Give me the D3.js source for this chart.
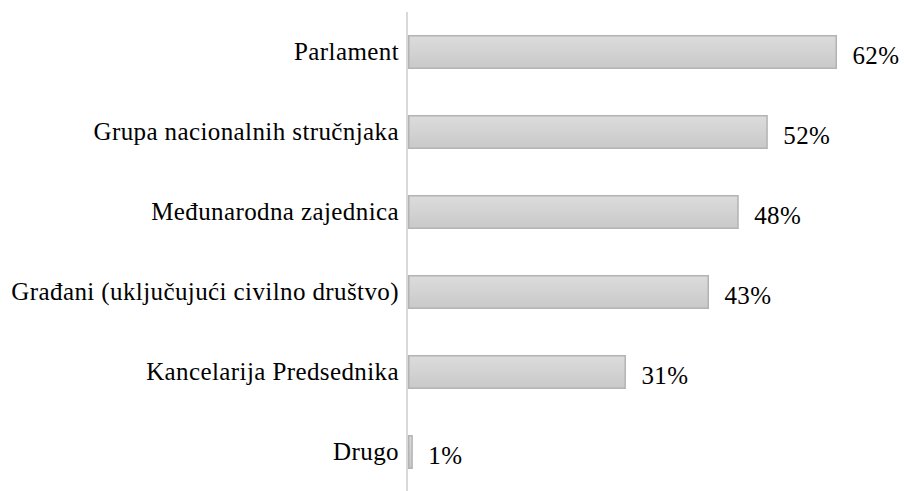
<!DOCTYPE html>
<html><head><meta charset="utf-8">
<script src="https://cdn.jsdelivr.net/npm/d3@7"></script>
<style>html,body{margin:0;padding:0;background:#fff;}</style>
</head><body>
<script>
const categories = ["Parlament","Grupa nacionalnih stručnjaka","Međunarodna zajednica","Građani (uključujući civilno društvo)","Kancelarija Predsednika","Drugo"];
const values = [62,52,47.8,43.5,31.5,0.7];
const valueLabels = ["62%","52%","48%","43%","31%","1%"];

const W = 904, H = 491;
const svg = d3.select("body").append("svg").attr("width",W).attr("height",H);
const defs = svg.append("defs");
const g = defs.append("linearGradient").attr("id","barg").attr("x1",0).attr("y1",0).attr("x2",0).attr("y2",1);
g.append("stop").attr("offset","0%").attr("stop-color","#dcdcdc");
g.append("stop").attr("offset","100%").attr("stop-color","#c9c9c9");

const x0 = 408;
const x = d3.scaleLinear().domain([0,62]).range([x0, 837]);
const y = d3.scaleBand().domain(categories).range([12, 492]).paddingInner(0.575).paddingOuter(0.2875);

const font = "'Liberation Serif', serif";

svg.selectAll("rect.bar").data(categories).enter().append("rect")
  .attr("class","bar")
  .attr("x", x(0)+0.75)
  .attr("y", d=>y(d)+0.75)
  .attr("width", (d,i)=>Math.max(0, x(values[i])-x(0)-1.5))
  .attr("height", y.bandwidth()-1.5)
  .attr("fill","url(#barg)")
  .attr("stroke","#b3b3b3").attr("stroke-width",1.5);

svg.append("line").attr("x1",407).attr("x2",407).attr("y1",12).attr("y2",H)
  .attr("stroke","#d9d9d9").attr("stroke-width",2);

svg.selectAll("text.cat").data(categories).enter().append("text")
  .attr("class","cat")
  .attr("x",399).attr("y",d=>y(d)+y.bandwidth()/2+8)
  .attr("text-anchor","end")
  .attr("font-family",font).attr("font-size",25).attr("letter-spacing","0.4px").attr("fill","#000")
  .text(d=>d);

svg.selectAll("text.val").data(categories).enter().append("text")
  .attr("class","val")
  .attr("x",(d,i)=>x(values[i])+15.5).attr("y",d=>y(d)+y.bandwidth()/2+11.5)
  .attr("text-anchor","start")
  .attr("font-family",font).attr("font-size",25).attr("letter-spacing","0.35px").attr("fill","#000")
  .text((d,i)=>valueLabels[i]);
</script>
</body></html>
